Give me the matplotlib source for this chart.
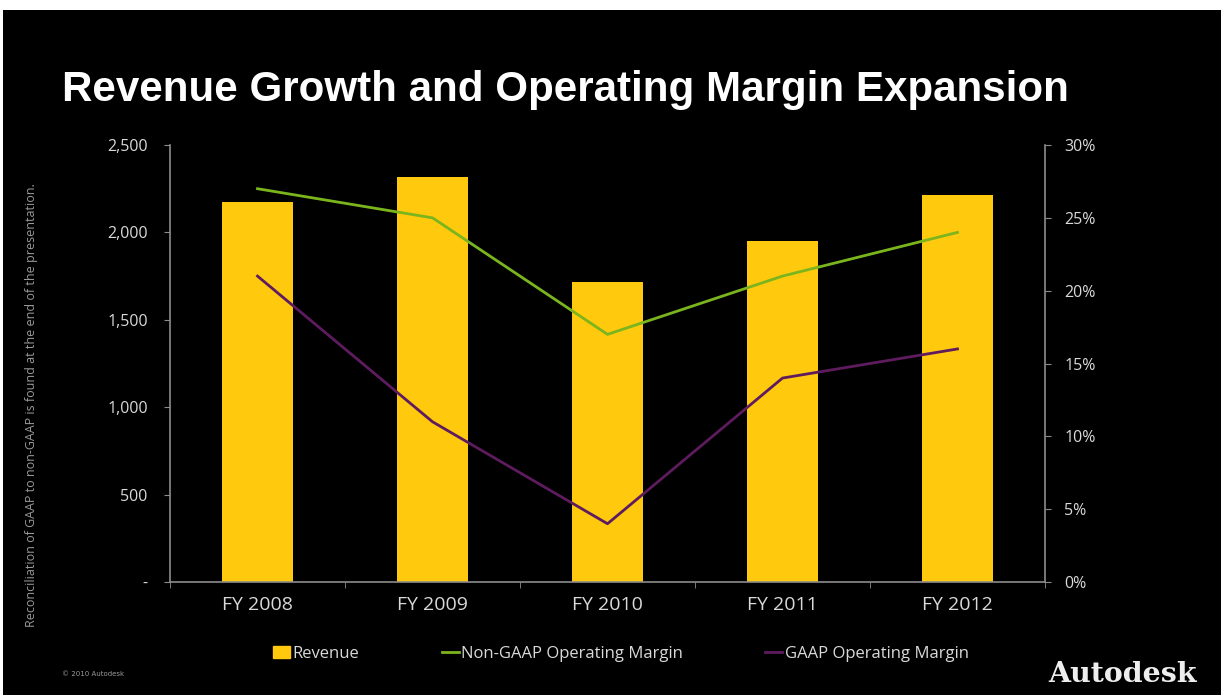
import matplotlib.pyplot as plt
from matplotlib.patches import Rectangle

years = ["FY 2008", "FY 2009", "FY 2010", "FY 2011", "FY 2012"]
revenue = [2172, 2315, 1714, 1952, 2216]
non_gaap_margin = [27, 25, 17, 21, 24]
gaap_margin = [21, 11, 4, 14, 16]

rev_ticks = [0, 500, 1000, 1500, 2000, 2500]
rev_tick_labels = ["-", "500", "1,000", "1,500", "2,000", "2,500"]
pct_ticks = [0, 5, 10, 15, 20, 25, 30]

bar_color = "#FFC90E"
green = "#7AB51D"
purple = "#5E1B5E"
axis_gray = "#8c8c8c"
label_gray = "#d9d9d9"

fig = plt.figure(figsize=(12.21, 6.95), dpi=100, facecolor="white")
# black slide background (the screenshot has a thin white strip on top and left)
fig.patches.append(Rectangle((3 / 1221, 0), 1, 685 / 695, transform=fig.transFigure,
                             facecolor="black", edgecolor="none", zorder=-10))

ax = fig.add_axes([170 / 1221, 113 / 695, 875 / 1221, 437 / 695])
ax.set_facecolor("none")
x = range(len(years))
ax.bar(x, revenue, width=0.41, color=bar_color, zorder=2)
ax.set_xlim(-0.5, len(years) - 0.5)
ax.set_ylim(0, 2500)
ax.set_yticks(rev_ticks)
ax.set_yticklabels(rev_tick_labels)
ax.set_xticks(list(x))
ax.set_xticklabels(years)
ax.set_xticks([i + 0.5 for i in range(-1, len(years))], minor=True)
ax.tick_params(axis="x", which="major", length=0, pad=10, labelsize=14, labelcolor=label_gray)
ax.tick_params(axis="x", which="minor", length=4, color=axis_gray, direction="out")
ax.tick_params(axis="y", length=4, color=axis_gray, labelsize=11.5, labelcolor=label_gray, pad=12)

ax2 = ax.twinx()
ax2.plot(x, non_gaap_margin, color=green, lw=2, label="Non-GAAP Operating Margin", zorder=3)
ax2.plot(x, gaap_margin, color=purple, lw=2, label="GAAP Operating Margin", zorder=3)
ax2.set_ylim(0, 30)
ax2.set_yticks(pct_ticks)
ax2.set_yticklabels([f"{p}%" for p in pct_ticks])
ax2.tick_params(axis="y", length=4, color=axis_gray, labelsize=11.5, labelcolor=label_gray, pad=10)

for a in (ax, ax2):
    a.spines["top"].set_visible(False)
    for side in ("left", "right", "bottom"):
        a.spines[side].set_color(axis_gray)
        a.spines[side].set_linewidth(1.2)
ax.spines["right"].set_visible(False)
ax2.spines["left"].set_visible(False)
ax2.spines["bottom"].set_visible(False)

for lbl in ax.get_xticklabels() + ax.get_yticklabels() + ax2.get_yticklabels():
    lbl.set_family(["Open Sans", "DejaVu Sans"])

handles = [Rectangle((0, 0), 1, 1, color=bar_color, label="Revenue")] + ax2.get_lines()
leg = fig.legend(handles=handles, loc="center", bbox_to_anchor=(621 / 1221, 1 - 654 / 695),
                 ncol=3, frameon=False, handlelength=1.0, handletextpad=0.15,
                 columnspacing=4.95, prop={"family": "Open Sans", "size": 12})
for t in leg.get_texts():
    t.set_color(label_gray)

fig.text(62 / 1221, 1 - 90 / 695, "Revenue Growth and Operating Margin Expansion",
         fontsize=30.3, fontweight="bold", family="Liberation Sans", color="white",
         va="center", ha="left")

fig.text(32 / 1221, 1 - 405 / 695,
         "Reconciliation of GAAP to non-GAAP is found at the end of the presentation.",
         rotation=90, fontsize=9, color="#9a9a9a", va="center", ha="center",
         family="Open Sans")
fig.text(62 / 1221, 1 - 674 / 695, "© 2010 Autodesk", fontsize=5, color="#9a9a9a",
         va="center", ha="left")
fig.text(1197 / 1221, 1 - 675 / 695, "Autodesk", fontsize=20.5, fontweight="bold",
         family="DejaVu Serif", color="#eeeeee", va="center", ha="right")

fig.savefig("out.png", dpi=100, facecolor=fig.get_facecolor())
